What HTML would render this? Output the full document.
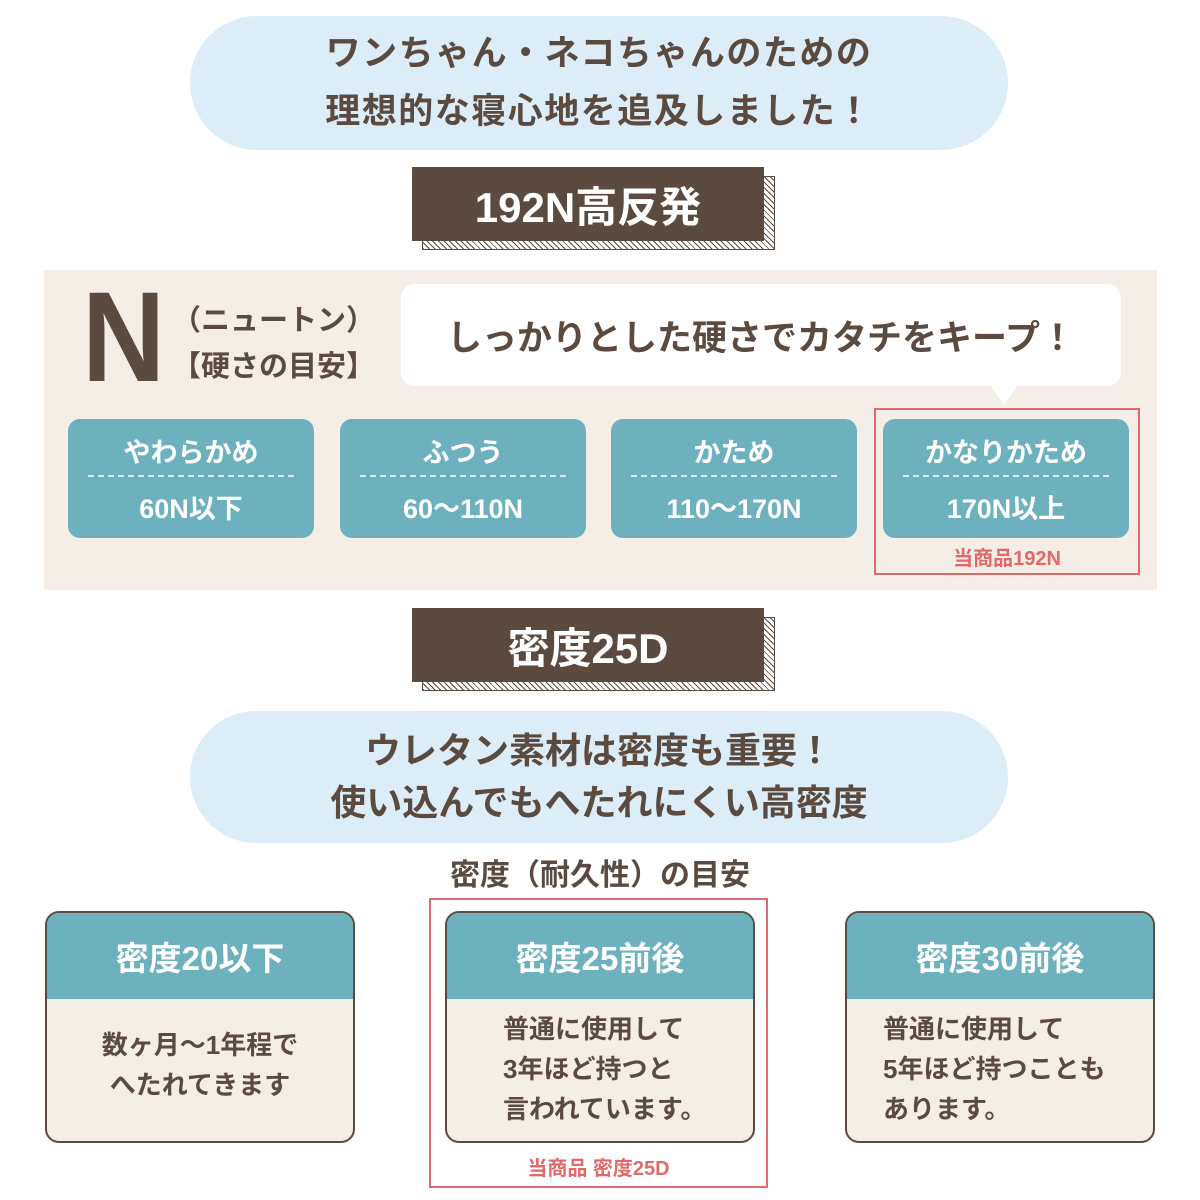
<!DOCTYPE html>
<html><head><meta charset="utf-8"><style>
*{margin:0;padding:0;box-sizing:border-box}
body{width:1200px;height:1200px;background:#fff;position:relative;overflow:hidden;font-family:"Liberation Sans","Noto Sans CJK JP",sans-serif;color:#5a4a40;font-weight:bold}
.a{position:absolute}
.pill{background:#dcedf7;border-radius:70px;display:flex;flex-direction:column;align-items:center;justify-content:center;text-align:center}
.tb{background:#5a4a40;color:#fff;display:flex;align-items:center;justify-content:center;font-size:42px}
.sh{border:1.5px solid #5a4a40;background:repeating-linear-gradient(45deg,#5a4a40 0 1px,#fff 1px 4px)}
.teal{background:#6db1bf;border-radius:12px;color:#fff;text-align:center}
.teal .t{font-size:27px;margin-top:12px;height:40px}
.teal .d{border-top:2px dashed #d8ecf0;margin:4px 20px 0}
.teal .b{font-size:27px;margin-top:10px}
.card{border:2px solid #5a4a40;border-radius:14px;overflow:hidden;background:#f4eee6}
.card .h{background:#6db1bf;color:#fff;height:86px;display:flex;align-items:center;justify-content:center;font-size:33px}
.card .c{font-size:26px;line-height:40px}
.red{border:2px solid #e06a6a}
.rt{color:#e06a6a;font-size:20px;text-align:center}
</style></head><body>
<div class="a pill" style="left:190px;top:16px;width:818px;height:134px;font-size:35px;line-height:58px;letter-spacing:1.5px">ワンちゃん・ネコちゃんのための<br>理想的な寝心地を追及しました！</div>
<div class="a sh" style="left:422px;top:176px;width:353px;height:74px"></div>
<div class="a tb" style="left:412px;top:167px;width:352px;height:74px">192N高反発</div>
<div class="a" style="left:44px;top:270px;width:1113px;height:320px;background:#f4eee6"></div>
<div class="a" style="left:82px;top:268px;font-size:128px;line-height:140px;font-family:'Liberation Sans',sans-serif;transform:scaleX(0.9);transform-origin:left">N</div>
<div class="a" style="left:172px;top:298px;font-size:29px;line-height:46px">（ニュートン）<br>【硬さの目安】</div>
<div class="a" style="left:401px;top:284px;width:720px;height:102px;background:#fff;border-radius:14px;display:flex;align-items:center;justify-content:center;font-size:35px">しっかりとした硬さでカタチをキープ！</div>
<div class="a" style="left:990px;top:385px;width:0;height:0;border-left:14px solid transparent;border-right:14px solid transparent;border-top:20px solid #fff"></div>
<div class="a teal" style="left:68px;top:419px;width:246px;height:119px"><div class="t">やわらかめ</div><div class="d"></div><div class="b">60N以下</div></div>
<div class="a teal" style="left:340px;top:419px;width:246px;height:119px"><div class="t">ふつう</div><div class="d"></div><div class="b">60〜110N</div></div>
<div class="a teal" style="left:611px;top:419px;width:246px;height:119px"><div class="t">かため</div><div class="d"></div><div class="b">110〜170N</div></div>
<div class="a teal" style="left:883px;top:419px;width:246px;height:119px"><div class="t">かなりかため</div><div class="d"></div><div class="b">170N以上</div></div>
<div class="a red" style="left:874px;top:408px;width:266px;height:167px"></div>
<div class="a rt" style="left:874px;top:542px;width:266px">当商品192N</div>
<div class="a sh" style="left:422px;top:617px;width:353px;height:74px"></div>
<div class="a tb" style="left:412px;top:608px;width:352px;height:74px">密度25D</div>
<div class="a pill" style="left:190px;top:711px;width:818px;height:132px;font-size:36px;line-height:52px">ウレタン素材は密度も重要！<br>使い込んでもへたれにくい高密度</div>
<div class="a" style="left:0;top:850px;width:1200px;text-align:center;font-size:30px">密度（耐久性）の目安</div>
<div class="a card" style="left:45px;top:911px;width:310px;height:232px"><div class="h">密度20以下</div><div class="c" style="text-align:center;padding-top:26px">数ヶ月〜1年程で<br>へたれてきます</div></div>
<div class="a card" style="left:445px;top:911px;width:310px;height:232px"><div class="h">密度25前後</div><div class="c" style="padding:10px 0 0 56px">普通に使用して<br>3年ほど持つと<br>言われています。</div></div>
<div class="a card" style="left:845px;top:911px;width:310px;height:232px"><div class="h">密度30前後</div><div class="c" style="padding:10px 0 0 36px">普通に使用して<br>5年ほど持つことも<br>あります。</div></div>
<div class="a red" style="left:429px;top:898px;width:339px;height:290px"></div>
<div class="a rt" style="left:429px;top:1152px;width:339px">当商品 密度25D</div>
</body></html>
